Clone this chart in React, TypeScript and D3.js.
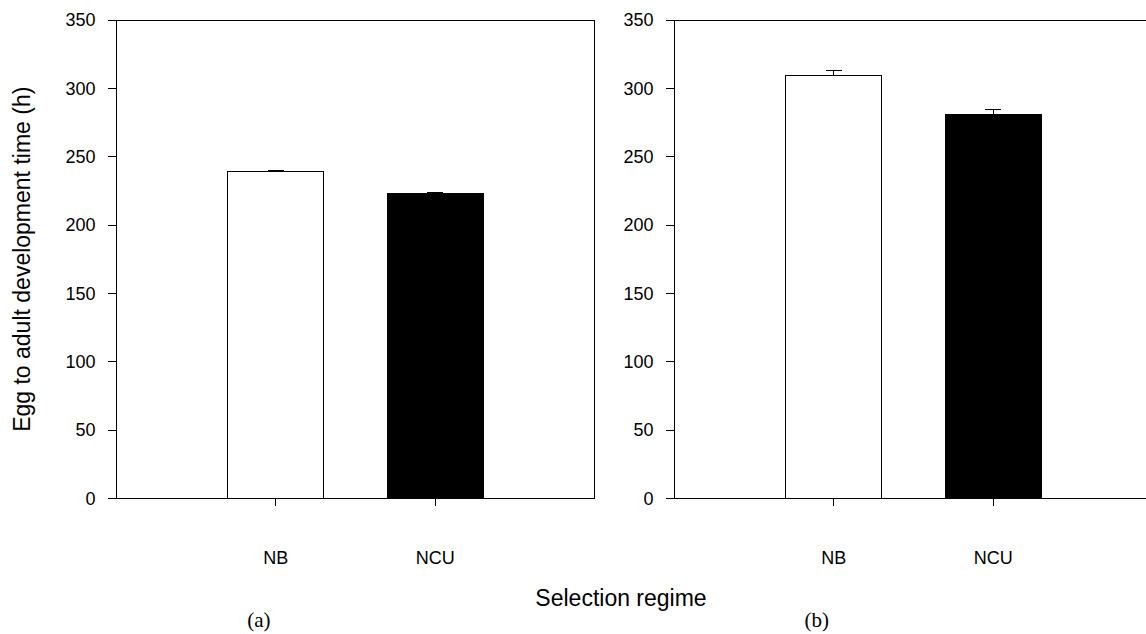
import React from "react";
import * as d3 from "d3";

// Selection regimes on the x axis
const categories = ["NB", "NCU"];
// Mean egg-to-adult development time (h) and standard error, panel (a)
const panelAMeans = [239.3, 222.8];
const panelAErrors = [0.5, 0.7];
// Same measures for panel (b)
const panelBMeans = [309.7, 280.8];
const panelBErrors = [3.5, 3.5];
const yTicks = [0, 50, 100, 150, 200, 250, 300, 350];
const panelLabels = ["(a)", "(b)"];
const barFills = ["#ffffff", "#000000"];

const W = 1146;
const H = 634;
const panelWidth = 478;
const top = 20;
const bottom = 498.5;
const panelLefts = [116.5, 674.5];
const sans = "Liberation Sans, Arial, sans-serif";

const y = d3.scaleLinear().domain([0, 350]).range([bottom, top]);

function Panel({ left, means, errors, label }: { left: number; means: number[]; errors: number[]; label: string }) {
  const x = d3.scalePoint<string>().domain(categories).range([left, left + panelWidth]).padding(1);
  const barW = 96;
  const capW = 16;
  return (
    <g>
      {categories.map((c, i) => {
        const cx = x(c) as number;
        const yTop = y(means[i]);
        const yErr = y(means[i] + errors[i]);
        return (
          <g key={c}>
            <line x1={cx} x2={cx} y1={yTop} y2={yErr} stroke="#000" strokeWidth={1} />
            <line x1={cx - capW / 2} x2={cx + capW / 2} y1={yErr} y2={yErr} stroke="#000" strokeWidth={1} />
            <rect x={cx - barW / 2} y={yTop} width={barW} height={bottom - yTop} fill={barFills[i]} stroke="#000" strokeWidth={1} />
          </g>
        );
      })}
      {/* frame */}
      <rect x={left} y={top} width={panelWidth} height={bottom - top} fill="none" stroke="#000" strokeWidth={1} />
      {/* y ticks */}
      {yTicks.map((t) => (
        <g key={t}>
          <line x1={left - 9} x2={left} y1={y(t)} y2={y(t)} stroke="#000" strokeWidth={1} />
          <text x={left - 21} y={y(t)} dy="0.35em" textAnchor="end" fontSize={18} fontFamily={sans}>
            {t}
          </text>
        </g>
      ))}
      {/* x ticks */}
      {categories.map((c) => (
        <g key={c}>
          <line x1={x(c) as number} x2={x(c) as number} y1={bottom} y2={bottom + 7} stroke="#000" strokeWidth={1} />
          <text x={x(c) as number} y={bottom + 65} textAnchor="middle" fontSize={18} fontFamily={sans}>
            {c}
          </text>
        </g>
      ))}
      <text x={(x("NB") as number) - 17} y={627} textAnchor="middle" fontSize={21} fontFamily="Liberation Serif, Times New Roman, serif">
        {label}
      </text>
    </g>
  );
}

export default function App() {
  return (
    <svg width={W} height={H} style={{ position: "absolute", left: 0, top: 0, background: "#fff" }} shapeRendering="crispEdges">
      <rect x={0} y={0} width={W} height={H} fill="#fff" />
      <Panel left={panelLefts[0]} means={panelAMeans} errors={panelAErrors} label={panelLabels[0]} />
      <Panel left={panelLefts[1]} means={panelBMeans} errors={panelBErrors} label={panelLabels[1]} />
      <text
        transform={`translate(30,${(top + bottom) / 2}) rotate(-90)`}
        textAnchor="middle"
        fontSize={23}
        fontFamily={sans}
      >
        Egg to adult development time (h)
      </text>
      <text x={621} y={606} textAnchor="middle" fontSize={23} fontFamily={sans}>
        Selection regime
      </text>
    </svg>
  );
}
